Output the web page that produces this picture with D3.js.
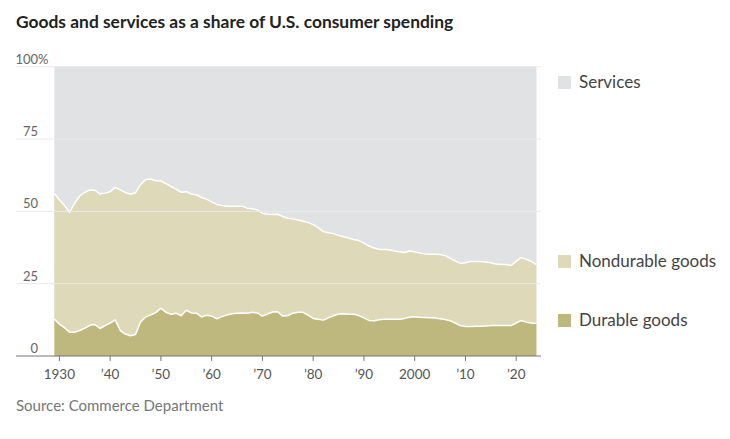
<!DOCTYPE html>
<html>
<head>
<meta charset="utf-8">
<script src="https://cdn.jsdelivr.net/npm/d3@7"></script>
<style>
    body { margin: 0; background: #fff; }
    svg text { font-family: Lato, "Open Sans", sans-serif; }
</style>
</head>
<body>
<div id="chart"></div>
<script>
// Shares of U.S. consumer spending, percent, 1929-2024
const years = d3.range(1929, 2025);

const durable = [
    12.8, 11.0, 9.8, 8.2, 8.2, 8.8, 9.6, 10.6, 10.9, 9.5,
    10.5, 11.4, 12.5, 8.8, 7.6, 7.0, 7.4, 11.8, 13.5, 14.2,
    15.0, 16.5, 15.1, 14.4, 14.8, 13.9, 15.8, 14.9, 14.8, 13.5,
    14.1, 13.8, 12.9, 13.6, 14.2, 14.6, 14.8, 14.9, 14.8, 15.1,
    14.9, 13.8, 14.5, 15.2, 15.3, 13.8, 13.9, 14.8, 15.1, 15.1,
    14.1, 13.0, 12.7, 12.4, 13.2, 13.9, 14.5, 14.6, 14.4, 14.4,
    14.0, 13.2, 12.3, 12.2, 12.5, 12.7, 12.7, 12.7, 12.7, 13.0,
    13.4, 13.6, 13.4, 13.3, 13.2, 13.1, 12.9, 12.6, 12.2, 11.4,
    10.5, 10.2, 10.2, 10.3, 10.3, 10.4, 10.5, 10.5, 10.5, 10.5,
    10.5, 11.4, 12.3, 11.7, 11.4, 11.2
];

const nondurable = [
    43.4, 43.0, 42.2, 41.4, 44.6, 46.5, 47.0, 46.8, 46.4, 46.5,
    45.8, 45.4, 45.8, 48.6, 48.9, 48.9, 49.0, 47.5, 47.5, 47.0,
    45.6, 44.0, 44.5, 44.2, 42.9, 42.7, 41.0, 41.1, 40.9, 41.3,
    40.1, 39.5, 39.5, 38.4, 37.6, 37.2, 37.0, 36.9, 36.3, 35.8,
    35.6, 35.5, 34.5, 33.7, 33.7, 34.4, 33.7, 32.6, 31.9, 31.5,
    32.0, 32.4, 31.7, 30.6, 29.4, 28.4, 27.2, 26.6, 26.4, 25.9,
    25.9, 25.8, 25.7, 25.1, 24.4, 24.1, 24.0, 23.6, 23.3, 22.8,
    22.9, 22.4, 22.2, 22.0, 22.0, 22.1, 22.2, 22.1, 21.6, 21.5,
    21.5, 22.0, 22.5, 22.4, 22.4, 22.1, 21.7, 21.3, 21.1, 21.1,
    20.8, 21.4, 21.7, 21.7, 21.2, 20.4
];

const yTicks = [0, 25, 50, 75, 100];
const xTicks = [1930, 1940, 1950, 1960, 1970, 1980, 1990, 2000, 2010, 2020];
const xTickLabels = ['1930', '\u201940', '\u201950', '\u201960', '\u201970', '\u201980', '\u201990', '2000', '\u201910', '\u201920'];
const legendItems = ['Services', 'Nondurable goods', 'Durable goods'];

const colors = {
    services: '#e1e2e4',
    nondurable: '#ddd9b9',
    durable: '#bfb87e'
};

const width = 730, height = 439;

const svg = d3.select('#chart')
    .append('svg')
        .attr('width', width)
        .attr('height', height);

// Title
svg.append('text')
    .attr('x', 16)
    .attr('y', 28)
    .attr('font-size', 17.4)
    .attr('font-weight', 'bold')
    .attr('fill', '#222')
    .text('Goods and services as a share of U.S. consumer spending');

const x = d3.scaleLinear()
    .domain([1929, 2024])
    .range([54.3, 536.5]);

const y = d3.scaleLinear()
    .domain([0, 100])
    .range([356, 66.7]);

const rows = years.map((yr, i) => ({ year: yr, durable: durable[i], nondurable: nondurable[i] }));

const stack = d3.stack().keys(['durable', 'nondurable']);
const layers = stack(rows);

const area = d3.area()
    .x(d => x(d.data.year))
    .y0(d => y(d[0]))
    .y1(d => y(d[1]));

// Services fill from top of goods up to 100%
const servicesArea = d3.area()
    .x(d => x(d.data.year))
    .y0(d => y(d[1]))
    .y1(y(100));

const plot = svg.append('g');

plot.append('path')
    .datum(layers[1])
    .attr('fill', colors.services)
    .attr('d', servicesArea);

plot.selectAll('path.layer')
    .data(layers)
    .enter()
    .append('path')
        .attr('class', 'layer')
        .attr('fill', d => colors[d.key])
        .attr('d', area);

const line = d3.line()
    .x(d => x(d.data.year))
    .y(d => y(d[1]));

plot.selectAll('path.edge')
    .data(layers)
    .enter()
    .append('path')
        .attr('class', 'edge')
        .attr('fill', 'none')
        .attr('stroke', '#fff')
        .attr('stroke-width', 1.5)
        .attr('stroke-linejoin', 'round')
        .attr('d', line);

// Gridlines
svg.selectAll('line.grid')
    .data(yTicks.filter(t => t > 0))
    .enter()
    .append('line')
        .attr('class', 'grid')
        .attr('x1', 16)
        .attr('x2', 541)
        .attr('y1', d => y(d))
        .attr('y2', d => y(d))
        .attr('stroke', '#e9e9e9')
        .attr('stroke-width', 1);

svg.selectAll('text.ylab')
    .data(yTicks)
    .enter()
    .append('text')
        .attr('class', 'ylab')
        .attr('x', 38)
        .attr('y', d => y(d) - 3)
        .attr('text-anchor', 'end')
        .attr('font-size', 13)
        .attr('fill', '#666')
        .text(d => d);

svg.append('text')
    .attr('x', 38)
    .attr('y', y(100) - 3)
    .attr('font-size', 13)
    .attr('fill', '#666')
    .text('%');

// Bottom axis
const xAxis = svg.append('g')
    .attr('transform', `translate(0,${y(0)})`);

xAxis.append('line')
    .attr('x1', 16)
    .attr('x2', 541)
    .attr('stroke', '#777')
    .attr('stroke-width', 1);

xAxis.selectAll('line.tick')
    .data(xTicks)
    .enter()
    .append('line')
        .attr('class', 'tick')
        .attr('x1', d => x(d))
        .attr('x2', d => x(d))
        .attr('y1', 0)
        .attr('y2', 5)
        .attr('stroke', '#777');

xAxis.selectAll('text')
    .data(xTicks)
    .enter()
    .append('text')
        .attr('x', d => x(d))
        .attr('y', 23)
        .attr('text-anchor', 'middle')
        .attr('font-size', 13.5)
        .attr('fill', '#555')
        .text((d, i) => xTickLabels[i]);

// Legend
const legendY = [83, 262, 321];
const legendColors = [colors.services, colors.nondurable, colors.durable];
const legend = svg.append('g');

legend.selectAll('rect')
    .data(legendItems)
    .enter()
    .append('rect')
        .attr('x', 558)
        .attr('y', (d, i) => legendY[i] - 7)
        .attr('width', 13)
        .attr('height', 13)
        .attr('fill', (d, i) => legendColors[i]);

legend.selectAll('text')
    .data(legendItems)
    .enter()
    .append('text')
        .attr('x', 579)
        .attr('y', (d, i) => legendY[i] + 5)
        .attr('font-size', 17)
        .attr('fill', '#444')
        .text(d => d);

// Source
svg.append('text')
    .attr('x', 16)
    .attr('y', 411)
    .attr('font-size', 15)
    .attr('fill', '#777')
    .text('Source: Commerce Department');
</script>
</body>
</html>
